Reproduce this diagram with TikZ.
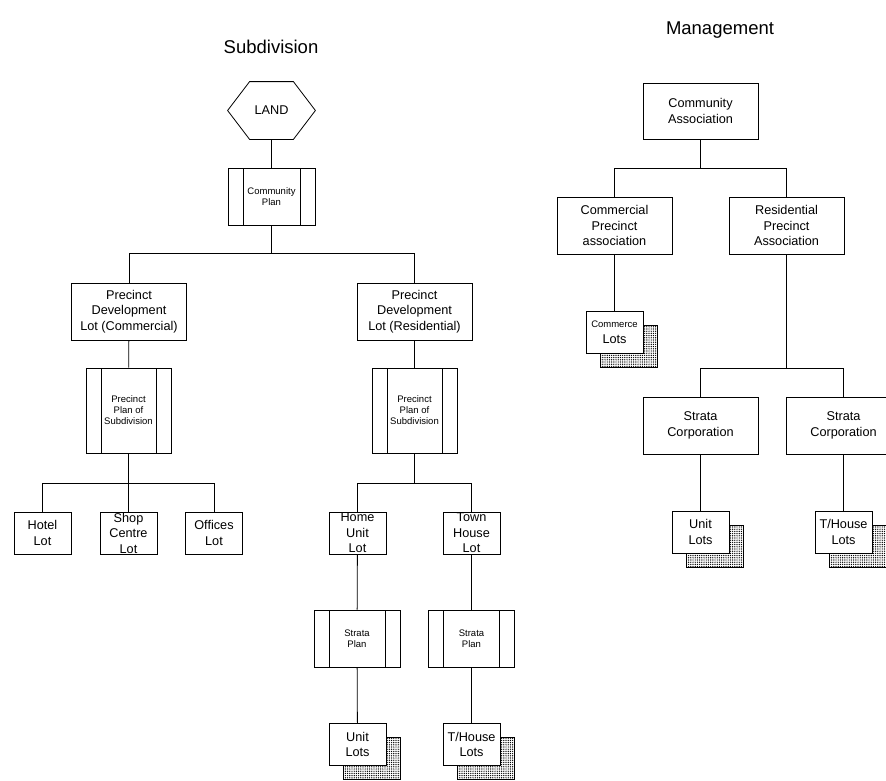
\documentclass[tikz,border=0pt]{standalone}
\usepackage{fontspec}
\setmainfont{Liberation Sans}
\usetikzlibrary{patterns,shadows}
\newcommand{\boxfont}{\fontsize{12.7}{15.5}\selectfont}
\newcommand{\tinyfont}{\fontsize{9.5}{11}\selectfont}
% dense dot fill for the lot shadows
\pgfdeclarepatternformonly{lotdots}{\pgfqpoint{-1pt}{-1pt}}{\pgfqpoint{1pt}{1pt}}{\pgfqpoint{2.2pt}{2.2pt}}%
  {\pgfpathcircle{\pgfqpoint{0pt}{0pt}}{0.7pt}\pgfusepath{fill}}
\begin{document}
\begin{tikzpicture}[
    x = 1pt, y = -1pt,
    line width = 0.8pt,
    box/.style = {draw, fill=white, align=center, inner sep=0pt,
                  minimum width=115pt, minimum height=57pt, font=\boxfont},
    lot/.style = {box, minimum width=57pt, minimum height=42pt},
    proc/.style = {box, minimum width=86pt, font=\tinyfont,
        path picture={\draw ([xshift=15pt]path picture bounding box.north west) -- ([xshift=15pt]path picture bounding box.south west)
                            ([xshift=-15pt]path picture bounding box.north east) -- ([xshift=-15pt]path picture bounding box.south east);}},
    lots/.style = {lot, general shadow={shadow xshift=14pt, shadow yshift=-14pt, draw, fill=white, pattern=lotdots}},
    heading/.style = {font=\fontsize{18.5}{22}\selectfont}
  ]
\useasboundingbox (0,0) rectangle (886,780);
% headings
\node[heading] (tsub) at (271,47) {Subdivision};
\node[heading] (tman) at (720,30) {Management};
%
% subdivision side
\node[box, draw=none, fill=none, minimum width=87pt] (land) at (271.5,110.5) {LAND};
\draw (land.west) -- ([xshift=22pt]land.north west) -- ([xshift=-22pt]land.north east) -- (land.east)
      -- ([xshift=-22pt]land.south east) -- ([xshift=22pt]land.south west) -- cycle;
\node[proc, minimum width=87pt] (cplan) at (271.5,196.5) {Community\\Plan};
\node[box] (pdlc) at (129,311.5) {Precinct\\Development\\Lot (Commercial)};
\node[box] (pdlr) at (414.5,311.5) {Precinct\\Development\\Lot (Residential)};
\node[proc, minimum width=85pt, minimum height=85pt] (ppsc) at (128.5,410.5) {Precinct\\Plan of\\Subdivision};
\node[proc, minimum width=85pt, minimum height=85pt] (ppsr) at (414.5,410.5) {Precinct\\Plan of\\Subdivision};
\node[lot] (hotel) at (42.5,533) {Hotel\\Lot};
\node[lot] (shop) at (128.5,533) {Shop\\Centre\\Lot};
\node[lot] (offices) at (214,533) {Offices\\Lot};
\node[lot] (homeunit) at (357.5,533) {Home\\Unit\\Lot};
\node[lot] (townhouse) at (471.5,533) {Town\\House\\Lot};
\node[proc] (splanl) at (357,638.5) {Strata\\Plan};
\node[proc] (splanr) at (471.5,638.5) {Strata\\Plan};
\node[lots] (unitlots) at (357.5,744.5) {Unit\\Lots};
\node[lots] (thlots) at (471.5,744.5) {T/House\\Lots};
% connectors
\draw (land) -- (cplan);
\draw (cplan.south) -- ++(0,28) -| (pdlc.north);
\draw (cplan.south) -- ++(0,28) -| (pdlr.north);
\draw (pdlc) -- (ppsc);
\draw (pdlr) -- (ppsr);
\draw (ppsc.south) -- ++(0,30) -| (hotel.north);
\draw (ppsc.south) -- ++(0,30) -| (offices.north);
\draw (ppsc) -- (shop);
\draw (ppsr.south) -- ++(0,30) -| (homeunit.north);
\draw (ppsr.south) -- ++(0,30) -| (townhouse.north);
\draw (homeunit) -- (splanl);
\draw (townhouse) -- (splanr);
\draw (splanl) -- (unitlots);
\draw (splanr) -- (thlots);
%
% management side
\node[box, minimum height=56pt] (comass) at (700.5,111) {Community\\Association};
\node[box] (compa) at (614.5,225.5) {Commercial\\Precinct\\association};
\node[box] (respa) at (786.5,225.5) {Residential\\Precinct\\Association};
\node[lots] (commlots) at (614.5,332) {{\tinyfont Commerce}\\Lots};
\node[box] (stratal) at (700.5,425.5) {Strata\\Corporation};
\node[box] (stratar) at (843.5,425.5) {Strata\\Corporation};
\node[lots] (unitlots2) at (700.5,532) {Unit\\Lots};
\node[lots] (thlots2) at (843.5,532) {T/House\\Lots};
% connectors
\draw (comass.south) -- ++(0,29) -| (compa.north);
\draw (comass.south) -- ++(0,29) -| (respa.north);
\draw (compa) -- (commlots);
\draw (respa.south) -- ++(0,114) -| (stratal.north);
\draw (respa.south) -- ++(0,114) -| (stratar.north);
\draw (stratal) -- (unitlots2);
\draw (stratar) -- (thlots2);
%
\end{tikzpicture}
\end{document}
